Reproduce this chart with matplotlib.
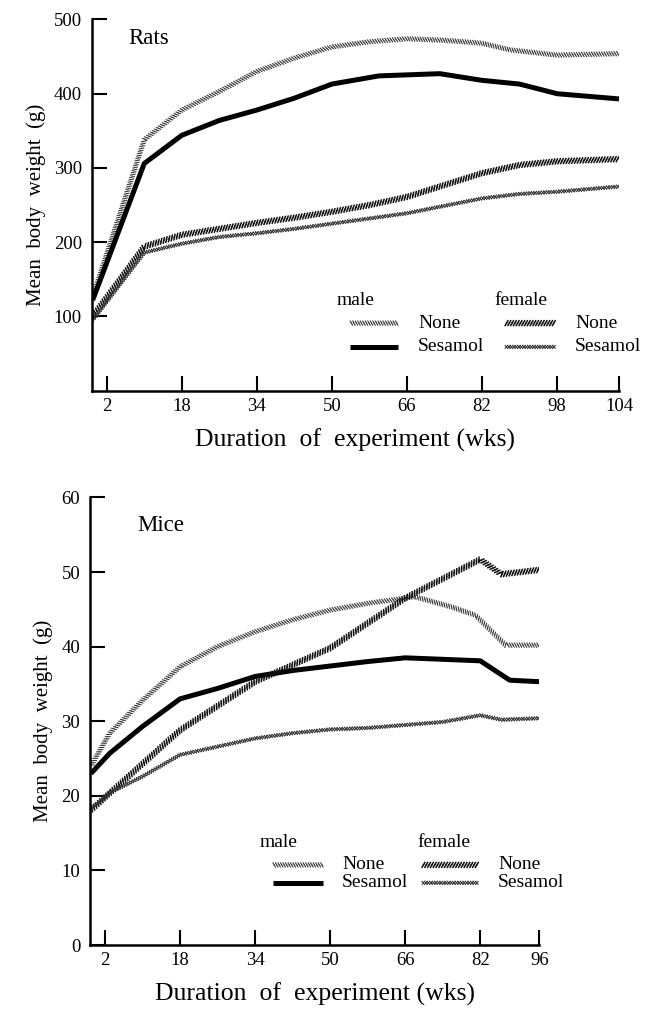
import numpy as np
import matplotlib
matplotlib.use("Agg")
import matplotlib.pyplot as plt
import matplotlib.patheffects as pe

plt.rcParams['font.family'] = ['Liberation Serif', 'DejaVu Serif']

# ---- Rats (weeks, mean body weight g) ----
rat_wk_m_none = [-1, 10, 18, 26, 34, 42, 50, 58, 66, 74, 82, 88, 98, 104]
rat_m_none = [126, 338, 378, 403, 430, 448, 463, 470, 474, 472, 468, 459, 452, 454]
rat_wk_m_ses = [-1, 10, 18, 26, 34, 42, 50, 60, 73, 82, 90, 98, 104]
rat_m_ses = [122, 306, 344, 364, 378, 394, 413, 424, 427, 418, 413, 400, 393]
rat_wk_f = [-1, 10, 18, 26, 34, 42, 50, 58, 66, 74, 82, 90, 98, 104]
rat_f_none = [100, 194, 210, 218, 226, 233, 241, 250, 261, 277, 293, 304, 309, 312]
rat_f_ses = [95, 186, 198, 207, 212, 218, 225, 232, 239, 249, 259, 265, 268, 275]
rat_yticks = [100, 200, 300, 400, 500]
rat_xticks = [2, 18, 34, 50, 66, 82, 98, 104]

# ---- Mice ----
mice_wk_m_none = [-1, 3, 10, 18, 26, 34, 42, 50, 58, 66, 68, 76, 81, 88, 96]
mice_m_none = [24.0, 28.4, 32.8, 37.3, 40.0, 42.0, 43.6, 44.9, 45.8, 46.5, 46.7, 45.3, 44.2, 40.2, 40.2]
mice_wk_m_ses = [-1, 3, 10, 18, 26, 34, 42, 50, 58, 66, 74, 82, 89, 96]
mice_m_ses = [23.0, 25.7, 29.3, 33.0, 34.4, 36.0, 36.8, 37.4, 38.0, 38.5, 38.3, 38.1, 35.5, 35.3]
mice_wk_f_none = [-1, 18, 34, 50, 66, 82, 87, 96]
mice_f_none = [18.1, 28.8, 35.3, 39.8, 46.5, 51.7, 49.7, 50.3]
mice_wk_f_ses = [-1, 3, 10, 18, 26, 34, 42, 50, 58, 66, 74, 82, 87, 96]
mice_f_ses = [18.3, 20.4, 22.6, 25.5, 26.6, 27.7, 28.4, 28.9, 29.1, 29.5, 29.9, 30.8, 30.2, 30.4]
mice_yticks = [0, 10, 20, 30, 40, 50, 60]
mice_xticks = [2, 18, 34, 50, 66, 82, 96]


def ticks(angle, sp, ln, lw):
    return [pe.TickedStroke(spacing=sp, angle=angle, length=ln, linewidth=lw),
            pe.TickedStroke(spacing=sp, angle=angle - 180, length=ln, linewidth=lw)]


STYLES = {
    'm_none': dict(color='#3a3a3a', lw=0.8, path_effects=ticks(120, 1.8, 0.95, 0.8)),
    'm_ses': dict(color='black', lw=3.6, solid_capstyle='butt'),
    'f_none': dict(color='#111111', lw=0.9, path_effects=ticks(60, 2.0, 1.0, 1.1)),
    'f_ses': dict(color='#333333', lw=0.7,
                  path_effects=ticks(50, 1.8, 0.8, 0.7) + ticks(130, 1.8, 0.8, 0.7)),
}


def piecewise(brk, k):
    def fwd(x):
        x = np.asarray(x, dtype=float)
        return np.where(x <= brk, x, brk + (x - brk) * k)

    def inv(y):
        y = np.asarray(y, dtype=float)
        return np.where(y <= brk, y, brk + (y - brk) / k)
    return fwd, inv


def style_axes(ax, xticks, yticks, xmax, ymax):
    for s in ['top', 'right']:
        ax.spines[s].set_visible(False)
    for s in ['left', 'bottom']:
        ax.spines[s].set_linewidth(1.8)
    ax.set_xlim(-1.2, xmax)
    ax.set_ylim(0, ymax)
    ax.set_xticks(xticks)
    ax.set_xticklabels([str(t) for t in xticks])
    ax.set_yticks(yticks)
    ax.tick_params(direction='in', length=10.5, width=1.5, labelsize=13.5)
    ax.tick_params(axis='y', pad=7)
    ax.tick_params(axis='x', pad=5)
    ax.set_xlabel('Duration  of  experiment (wks)', fontsize=18.5, labelpad=10)
    ax.set_ylabel('Mean  body  weight  (g)', fontsize=15, labelpad=6)


def legend(ax, xh, xs, xt, yh, y1, y2):
    ax.text(xh[0], yh, 'male', transform=ax.transAxes, fontsize=14, va='center')
    ax.text(xh[1], yh, 'female', transform=ax.transAxes, fontsize=14, va='center')
    rows = [('m_none', 0, y1, 'None'), ('m_ses', 0, y2, 'Sesamol'),
            ('f_none', 1, y1, 'None'), ('f_ses', 1, y2, 'Sesamol')]
    for key, c, y, lab in rows:
        ax.plot(xs[c], [y, y], transform=ax.transAxes, clip_on=False, **STYLES[key])
        ax.text(xt[c], y, lab, transform=ax.transAxes, fontsize=14, va='center')


fig = plt.figure(figsize=(6.49, 10.09), dpi=100)

# Rats panel
ax1 = fig.add_axes([0.1413, 0.6128, 0.8125, 0.3679])
ax1.set_xscale('function', functions=piecewise(98, 2.2))
ax1.plot(rat_wk_m_none, rat_m_none, **STYLES['m_none'])
ax1.plot(rat_wk_m_ses, rat_m_ses, **STYLES['m_ses'])
ax1.plot(rat_wk_f, rat_f_none, **STYLES['f_none'])
ax1.plot(rat_wk_f, rat_f_ses, **STYLES['f_ses'])
style_axes(ax1, rat_xticks, rat_yticks, 104, 500)
ax1.text(0.069, 0.95, 'Rats', transform=ax1.transAxes, fontsize=16.5, va='center')
legend(ax1, (0.465, 0.763), ((0.490, 0.581), (0.784, 0.879)), (0.619, 0.917),
       0.244, 0.182, 0.118)

# Mice panel
ax2 = fig.add_axes([0.1387, 0.0634, 0.6923, 0.4436])
ax2.set_xscale('function', functions=piecewise(82, 0.9))
ax2.plot(mice_wk_m_none, mice_m_none, **STYLES['m_none'])
ax2.plot(mice_wk_m_ses, mice_m_ses, **STYLES['m_ses'])
ax2.plot(mice_wk_f_none, mice_f_none, **STYLES['f_none'])
ax2.plot(mice_wk_f_ses, mice_f_ses, **STYLES['f_ses'])
style_axes(ax2, mice_xticks, mice_yticks, 96, 60)
ax2.text(0.105, 0.938, 'Mice', transform=ax2.transAxes, fontsize=16.5, va='center')
legend(ax2, (0.378, 0.728), ((0.407, 0.519), (0.739, 0.864)), (0.561, 0.908),
       0.228, 0.179, 0.139)

fig.savefig('out.png', dpi=100)
